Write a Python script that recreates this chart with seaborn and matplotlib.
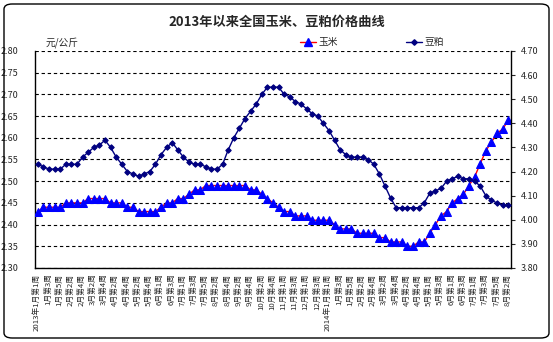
import matplotlib
matplotlib.use("Agg")
import matplotlib.pyplot as plt
from matplotlib.lines import Line2D
from matplotlib.patches import FancyBboxPatch
from matplotlib.ticker import MultipleLocator, FixedLocator
import numpy as np
import pandas as pd
import seaborn as sns

# Weekly national average prices, yuan/kg (week 1 of Jan 2013 .. week 2 of Aug 2014)
corn = [2.43, 2.44, 2.44, 2.44, 2.44, 2.45, 2.45, 2.45, 2.45, 2.46,
        2.46, 2.46, 2.46, 2.45, 2.45, 2.45, 2.44, 2.44, 2.43, 2.43,
        2.43, 2.43, 2.44, 2.45, 2.45, 2.46, 2.46, 2.47, 2.48, 2.48,
        2.49, 2.49, 2.49, 2.49, 2.49, 2.49, 2.49, 2.49, 2.48, 2.48,
        2.47, 2.46, 2.45, 2.44, 2.43, 2.43, 2.42, 2.42, 2.42, 2.41,
        2.41, 2.41, 2.41, 2.40, 2.39, 2.39, 2.39, 2.38, 2.38, 2.38,
        2.38, 2.37, 2.37, 2.36, 2.36, 2.36, 2.35, 2.35, 2.36, 2.36,
        2.38, 2.40, 2.42, 2.43, 2.45, 2.46, 2.47, 2.49, 2.51, 2.54,
        2.57, 2.59, 2.61, 2.62, 2.64]

soymeal = [4.23, 4.22, 4.21, 4.21, 4.21, 4.23, 4.23, 4.23, 4.26, 4.28,
           4.30, 4.31, 4.33, 4.30, 4.26, 4.23, 4.20, 4.19, 4.18, 4.19,
           4.20, 4.23, 4.27, 4.30, 4.32, 4.29, 4.26, 4.24, 4.23, 4.23,
           4.22, 4.21, 4.21, 4.23, 4.29, 4.34, 4.38, 4.42, 4.45, 4.48,
           4.52, 4.55, 4.55, 4.55, 4.52, 4.51, 4.49, 4.48, 4.46, 4.44,
           4.43, 4.40, 4.37, 4.33, 4.29, 4.27, 4.26, 4.26, 4.26, 4.25,
           4.23, 4.19, 4.14, 4.09, 4.05, 4.05, 4.05, 4.05, 4.05, 4.07,
           4.11, 4.12, 4.13, 4.16, 4.17, 4.18, 4.17, 4.17, 4.16, 4.14,
           4.10, 4.08, 4.07, 4.06, 4.06]

week_labels = ["2013年1月第1周", "1月第3周", "1月第5周", "2月第2周", "2月第4周",
               "3月第2周", "3月第4周", "4月第2周", "4月第4周", "5月第2周",
               "5月第4周", "6月第1周", "6月第3周", "7月第1周", "7月第3周",
               "7月第5周", "8月第2周", "8月第4周", "9月第2周", "9月第4周",
               "10月第2周", "10月第4周", "11月第1周", "11月第3周", "12月第1周",
               "12月第3周", "2014年1月第1周", "1月第3周", "1月第5周", "2月第2周",
               "2月第4周", "3月第2周", "3月第4周", "4月第2周", "4月第4周",
               "5月第1周", "5月第3周", "6月第1周", "6月第3周", "7月第1周",
               "7月第3周", "7月第5周", "8月第2周"]

sns.set_style("white")
plt.rcParams['font.family'] = ['Noto Sans CJK SC', 'DejaVu Sans']
plt.rcParams['axes.unicode_minus'] = False

df = pd.DataFrame({"week": np.arange(len(corn)), "corn": corn, "soymeal": soymeal})

W, H = 553, 342
fig = plt.figure(figsize=(W / 100, H / 100), dpi=100)
ax = fig.add_axes([35 / W, 1 - 268 / H, (511 - 35) / W, (268 - 51) / H])
ax2 = ax.twinx()

sns.lineplot(data=df, x="week", y="corn", ax=ax, color="red", linewidth=1.0,
             marker="^", markersize=5.5, markerfacecolor="#0000FF",
             markeredgecolor="#0000FF", legend=False, zorder=4)
sns.lineplot(data=df, x="week", y="soymeal", ax=ax2, color="#000080", linewidth=1.0,
             marker="D", markersize=2.8, markerfacecolor="#000080",
             markeredgecolor="#000080", legend=False, zorder=3)

n = len(corn)
for a in (ax, ax2):
    a.set_xlim(-0.5, n - 0.5)
    a.set_xlabel("")
    a.set_ylabel("")

ax.set_ylim(2.30, 2.80)
ax2.set_ylim(3.80, 4.70)
ax.yaxis.set_major_locator(MultipleLocator(0.05))
ax2.yaxis.set_major_locator(MultipleLocator(0.10))
ax.yaxis.set_major_formatter(matplotlib.ticker.FormatStrFormatter("%.2f"))
ax2.yaxis.set_major_formatter(matplotlib.ticker.FormatStrFormatter("%.2f"))

# dashed horizontal gridlines
ax.grid(axis="y", color="black", linestyle=(0, (3, 2.5)), linewidth=0.8)
ax.set_axisbelow(True)
ax.tick_params(axis="y", length=0, pad=12, labelsize=6.5)
ax2.tick_params(axis="y", length=3, width=0.8, pad=4, labelsize=6.5, direction="out")

# category ticks on the x axis
ax.xaxis.set_major_locator(FixedLocator(np.arange(0, n, 2)))
ax.set_xticklabels(week_labels, rotation=90, fontsize=5.6)
ax.xaxis.set_minor_locator(FixedLocator(np.arange(-0.5, n, 1)))
ax.tick_params(axis="x", which="major", length=0, pad=4)
ax.tick_params(axis="x", which="minor", length=3, width=0.8, direction="in", color="black")

for a in (ax, ax2):
    a.spines["top"].set_visible(False)
    for s in ("left", "right", "bottom"):
        a.spines[s].set_color("black")
        a.spines[s].set_linewidth(1.0)
ax.spines["right"].set_visible(False)
ax2.spines["left"].set_visible(False)
ax2.spines["bottom"].set_visible(False)

fig.text(0.5, 1 - 22 / H, "2013年以来全国玉米、豆粕价格曲线", ha="center", va="center",
         fontsize=9.5, fontweight="bold")
fig.text(46 / W, 1 - 43 / H, "元/公斤", ha="left", va="center", fontsize=7, style="italic")

handles = [Line2D([], [], color="red", linewidth=1.0, marker="^", markersize=5.5,
                  markerfacecolor="#0000FF", markeredgecolor="#0000FF"),
           Line2D([], [], color="#000080", linewidth=1.0, marker="D", markersize=2.8,
                  markerfacecolor="#000080", markeredgecolor="#000080")]
fig.legend(handles, ["玉米", "豆粕"], loc="center left",
           bbox_to_anchor=(300 / W, 1 - 42 / H), ncol=2, frameon=False,
           fontsize=7, handlelength=1.6, handletextpad=0.3, columnspacing=7.0,
           borderpad=0, borderaxespad=0)

# rounded outer border
border = FancyBboxPatch((4 / W, 4 / H), (W - 8) / W, (H - 8) / H,
                        boxstyle="round,pad=0,rounding_size=0.015",
                        transform=fig.transFigure, facecolor="none",
                        edgecolor="black", linewidth=1.0)
fig.patches.append(border)

fig.savefig("out.png", dpi=100)
